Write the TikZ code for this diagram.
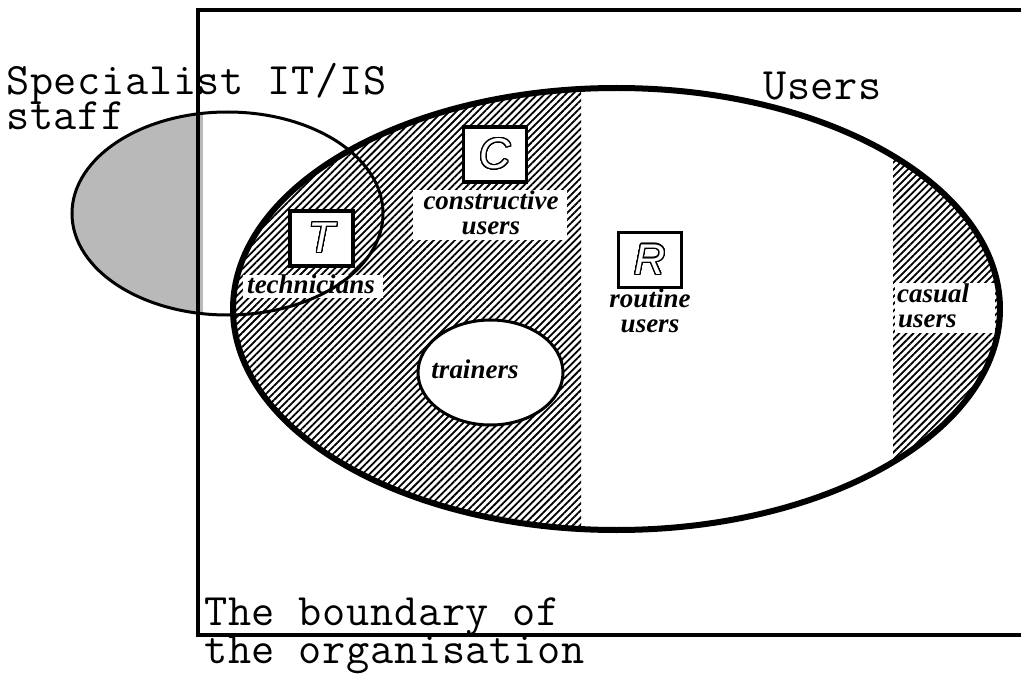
\documentclass[tikz,border=0pt]{standalone}
\usepackage{fontspec}
\setmainfont{Liberation Serif}
\setmonofont{Latin Modern Mono}[LetterSpace=1.5]
\newfontfamily\outl{Liberation Sans}
\usepackage{contour}
\contourlength{1.2pt}
\contournumber{32}
\usetikzlibrary{patterns.meta,shapes.geometric}
\begin{document}
\begin{tikzpicture}[x=1pt,y=-1pt,
  lab/.style={font=\fontsize{27}{27}\selectfont\bfseries\itshape, inner sep=0pt, anchor=base},
  mono/.style={font=\ttfamily\fontsize{45}{45}\selectfont, inner sep=0pt, anchor=base west},
  letterbox/.style={draw, line width=3.5pt, fill=white, minimum width=63pt, minimum height=55pt, inner sep=0pt, text=white, font=\outl\itshape\fontsize{43}{43}\selectfont},
  hatch/.style={pattern={Lines[angle=45,distance=5pt,line width=1.8pt]}},
  bgwhite/.style={fill=white}]
\useasboundingbox (0,0) rectangle (1021,674);

% grey part of the specialist ellipse (outside the organisation)
\begin{scope}
  \clip (227.5,213.5) ellipse [x radius=155.5, y radius=101.5];
  \fill[gray!55] (60,100) rectangle (203,330);
\end{scope}

% hatching inside the users ellipse
\begin{scope}
  \clip (616.5,309) ellipse [x radius=383.5, y radius=221];
  \fill[hatch] (220,80) rectangle (581,540);
  \fill[hatch] (893,80) rectangle (1010,540);
\end{scope}

% white label backgrounds
\fill[bgwhite] (413,190) rectangle (567,240);
\fill[bgwhite] (243,275) rectangle (383,298);
\fill[bgwhite] (895,283) rectangle (995,333);

% trainers ellipse
\node[draw, ellipse, line width=3pt, fill=white, minimum width=145pt, minimum height=105pt, inner sep=0pt] (trainers) at (490.5,372.5) {};

% users ellipse
\draw[line width=6pt] (616.5,309) ellipse [x radius=383.5, y radius=221];
% specialist ellipse
\draw[line width=3pt] (227.5,213.5) ellipse [x radius=155.5, y radius=101.5];
% organisation boundary
\draw[line width=4pt] (1030,10) -- (198,10) -- (198,635) -- (1030,635);

% letter boxes
\node[letterbox] (C) at (495,154.5) {\contour{black}{C}};
\node[letterbox] (T) at (321.5,238.5) {\contour{black}{T}};
\node[letterbox] (R) at (650,260) {\contour{black}{R}};

% labels
\node[lab] (cons1) at (491,210) {constructive};
\node[lab] (cons2) at (491,235) {users};
\node[lab] (tech) at (311,293) {technicians};
\node[lab] (rout1) at (650,307) {routine};
\node[lab] (rout2) at (650,332) {users};
\node[lab] (train) at (475,378) {trainers};
\node[lab, anchor=base west] (cas1) at (897,302) {casual};
\node[lab, anchor=base west] (cas2) at (898,327) {users};

% typewriter texts
\node[mono] (spec1) at (6,95) {Specialist IT/IS};
\node[mono] (spec2) at (6,130) {staff};
\node[mono] (users) at (763,100) {Users};
\node[mono] (bound1) at (204,625) {The boundary of};
\node[mono] (bound2) at (204,663) {the organisation};
\end{tikzpicture}
\end{document}
